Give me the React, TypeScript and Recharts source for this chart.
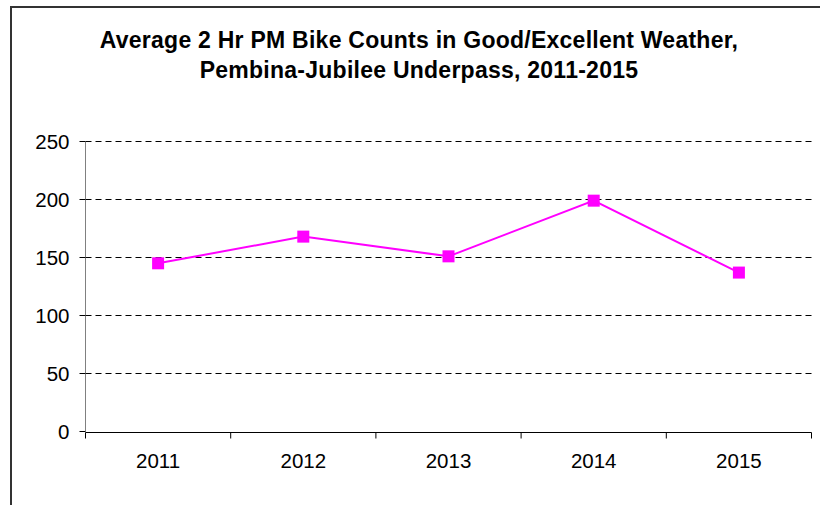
import React from 'react'
import {
  LineChart, Line, XAxis, YAxis, CartesianGrid,
} from 'recharts'

const years = ['2011', '2012', '2013', '2014', '2015']
const bikeCounts = [145, 168, 151, 199, 137]
const yTicks = [0, 50, 100, 150, 200, 250]
const edgeTicks = [0, 1, 2, 3, 4, 5]

const titleLines = [
  'Average 2 Hr PM Bike Counts in Good/Excellent Weather,',
  'Pembina-Jubilee Underpass, 2011-2015',
]

const FONT = '"Liberation Sans", Arial, sans-serif'
const MAGENTA = '#ff00ff'

// slot = category index, only used by the boundary-tick axis
const data = years.map((year, i) => ({ year, slot: i, count: bikeCounts[i] }))

// square marker like the Excel original
const SquareDot = (props: any) => {
  const { cx, cy, index } = props
  if (cx == null || cy == null) return <g key={index} />
  return <rect key={index} x={cx - 6} y={cy - 6} width={12} height={12} fill={MAGENTA} />
}

export default function App() {
  return (
    <div
      style={{
        position: 'fixed', left: 0, top: 0, width: 820, height: 505,
        overflow: 'hidden', background: '#fff', fontFamily: FONT,
      }}
    >
      <div
        style={{
          position: 'absolute', left: 10, top: 6, width: 840, height: 540,
          border: '2px solid #333', boxSizing: 'border-box',
        }}
      />
      <div
        style={{
          position: 'absolute', left: 0, top: 25, width: 838,
          textAlign: 'center', fontWeight: 'bold', fontSize: 23, letterSpacing: 0.25,
          lineHeight: '30px', color: '#000',
        }}
      >
        {titleLines.map((t) => (
          <div key={t}>{t}</div>
        ))}
      </div>
      <div style={{ position: 'absolute', left: 0, top: 0 }}>
        <LineChart
          width={820}
          height={505}
          data={data}
          margin={{ top: 141.5, right: 8.5, left: 25.5, bottom: 71.5 }}
        >
          <CartesianGrid
            vertical={false}
            horizontalValues={yTicks.filter((v) => v > 0)}
            stroke="#000"
            strokeDasharray="6 4"
          />
          <XAxis
            xAxisId="edge"
            dataKey="slot"
            type="number"
            domain={[0, 5]}
            ticks={edgeTicks}
            allowDataOverflow
            height={1}
            interval={0}
            tickSize={6}
            axisLine={{ stroke: '#000' }}
            tickLine={{ stroke: '#000' }}
            tick={() => <g />}
          />
          <XAxis
            dataKey="year"
            scale="band"
            height={1}
            axisLine={false}
            tickLine={false}
            tickSize={6}
            tickMargin={16}
            interval={0}
            tick={{ fill: '#000', fontSize: 20.5, fontFamily: FONT }}
          />
          <YAxis
            domain={[0, 250]}
            ticks={yTicks}
            interval={0}
            width={60}
            tickSize={6}
            tickMargin={10}
            axisLine={{ stroke: '#808080' }}
            tickLine={{ stroke: '#000' }}
            tick={{ fill: '#000', fontSize: 20.5, fontFamily: FONT }}
          />
          <Line
            dataKey="count"
            stroke={MAGENTA}
            strokeWidth={2}
            dot={<SquareDot />}
            activeDot={false}
            isAnimationActive={false}
          />
        </LineChart>
      </div>
    </div>
  )
}
